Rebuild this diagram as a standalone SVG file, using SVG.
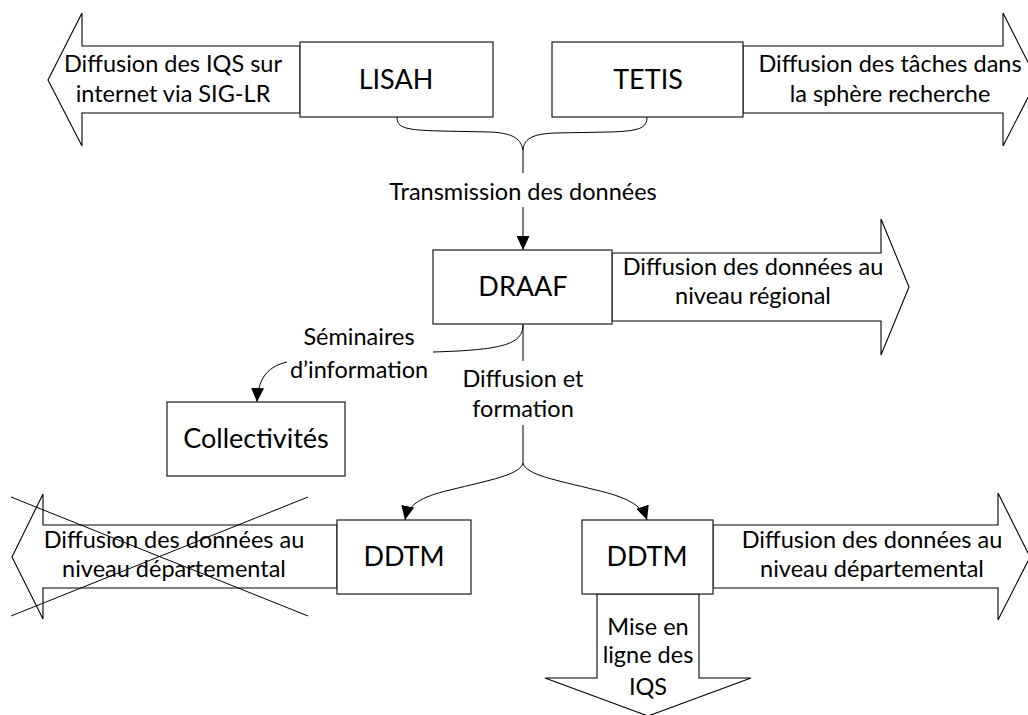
<svg xmlns="http://www.w3.org/2000/svg" width="1028" height="715" viewBox="0 0 1028 715">
  <style>
    .box { fill: #ffffff; stroke: #1a1a1a; stroke-width: 1.2; }
    .arr { fill: #ffffff; stroke: #000000; stroke-width: 1.1; stroke-linejoin: miter; }
    .con { fill: none; stroke: #000000; stroke-width: 1; }
    .big { font-family: Lato, "Liberation Sans", sans-serif; font-size: 27px; fill: #000; text-anchor: middle; }
    .lbl { font-family: Lato, "Liberation Sans", sans-serif; font-size: 23.5px; fill: #000; text-anchor: middle; }
  </style>
  <defs>
    <marker id="ah" viewBox="0 0 14 13" refX="14" refY="6.5" markerWidth="14" markerHeight="13" markerUnits="userSpaceOnUse" orient="auto">
      <path d="M0,0 L14,6.5 L0,13 Z" fill="#000"/>
    </marker>
  </defs>

  <!-- big arrows (drawn under boxes) -->
  <g id="arrow-lisah">
    <polygon class="arr" points="300,46 82,46 82,13 48,80 82,146 82,113 300,113"/>
    <text class="lbl" x="173" y="72">Diffusion des IQS sur</text>
    <text class="lbl" x="173" y="102">internet via SIG-LR</text>
  </g>
  <g id="arrow-tetis">
    <polygon class="arr" points="743,46 1003,46 1003,13 1037,80 1003,146 1003,113 743,113"/>
    <text class="lbl" x="890" y="72">Diffusion des tâches dans</text>
    <text class="lbl" x="890" y="102">la sphère recherche</text>
  </g>
  <g id="arrow-draaf">
    <polygon class="arr" points="612,253 881,253 881,219 909,287 881,355 881,321 612,321"/>
    <text class="lbl" x="753" y="275">Diffusion des données au</text>
    <text class="lbl" x="753" y="304">niveau régional</text>
  </g>
  <g id="arrow-ddtm-left">
    <polygon class="arr" points="337,525 43,525 43,494 12,557 43,619 43,588 337,588"/>
    <text class="lbl" x="174" y="548">Diffusion des données au</text>
    <text class="lbl" x="174" y="577">niveau départemental</text>
    <line class="con" x1="11" y1="497" x2="308" y2="616"/>
    <line class="con" x1="11" y1="616" x2="308" y2="497"/>
  </g>
  <g id="arrow-ddtm-right">
    <polygon class="arr" points="713,525 998,525 998,493 1030,557 998,620 998,588 713,588"/>
    <text class="lbl" x="872" y="548">Diffusion des données au</text>
    <text class="lbl" x="872" y="577">niveau départemental</text>
  </g>
  <g id="arrow-ddtm-down">
    <polygon class="arr" points="597,594 597,678 545,678 648,716 751,678 699,678 699,594"/>
    <text class="lbl" x="648" y="635">Mise en</text>
    <text class="lbl" x="648" y="663">ligne des</text>
    <text class="lbl" x="648" y="695">IQS</text>
  </g>

  <!-- connectors -->
  <g id="connectors">
    <path class="con" d="M397,117 C397,128 405,130 440,131 L490,132 C515,133 521,140 523,150"/>
    <path class="con" d="M647,117 C647,128 640,131 610,132 L555,133 C530,134 524,140 523,150"/>
    <line class="con" x1="523" y1="150" x2="523" y2="173"/>
    <line class="con" x1="523" y1="207" x2="523" y2="250" marker-end="url(#ah)"/>
    <text class="lbl" x="523" y="200">Transmission des données</text>
    <line class="con" x1="523" y1="324" x2="523" y2="361"/>
    <path class="con" d="M523,325 C523,345 500,350 433,352"/>
    <path class="con" d="M287,362 C270,366 258,376 257,402" marker-end="url(#ah)"/>
    <text class="lbl" x="359" y="345">Séminaires</text>
    <text class="lbl" x="359" y="378">d’information</text>
    <text class="lbl" x="523" y="387">Diffusion et</text>
    <text class="lbl" x="523" y="417">formation</text>
    <line class="con" x1="523" y1="425" x2="523" y2="463"/>
    <path class="con" d="M523,463 C520,475 490,480 450,490 C420,497 408,505 405,520" marker-end="url(#ah)"/>
    <path class="con" d="M523,463 C526,475 556,480 596,490 C626,497 642,505 647,520" marker-end="url(#ah)"/>
  </g>

  <!-- nodes -->
  <g id="lisah">
    <rect class="box" x="300" y="42" width="193" height="75"/>
    <text class="big" x="396" y="89">LISAH</text>
  </g>
  <g id="tetis">
    <rect class="box" x="552" y="42" width="191" height="75"/>
    <text class="big" x="648" y="89">TETIS</text>
  </g>
  <g id="draaf">
    <rect class="box" x="433" y="250" width="179" height="74"/>
    <text class="big" x="523" y="296">DRAAF</text>
  </g>
  <g id="collectivites">
    <rect class="box" x="167" y="402" width="178" height="74"/>
    <text class="big" x="256" y="448">Collectivités</text>
  </g>
  <g id="ddtm-left">
    <rect class="box" x="337" y="520" width="134" height="74"/>
    <text class="big" x="404" y="566">DDTM</text>
  </g>
  <g id="ddtm-right">
    <rect class="box" x="582" y="520" width="131" height="74"/>
    <text class="big" x="647" y="566">DDTM</text>
  </g>
</svg>
